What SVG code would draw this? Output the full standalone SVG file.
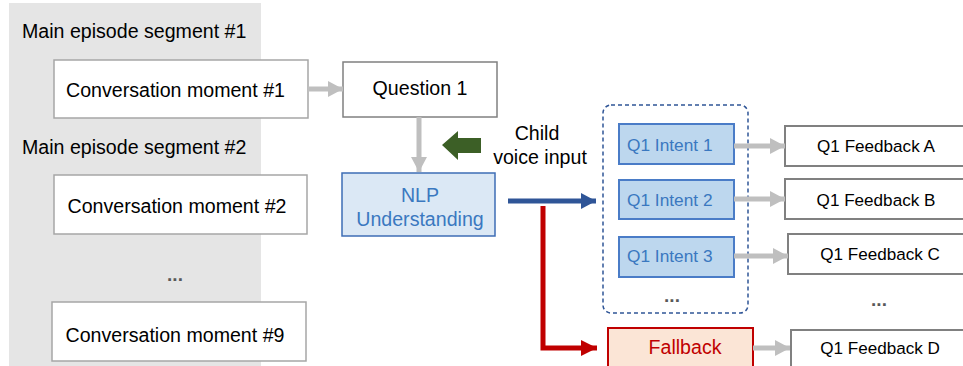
<svg xmlns="http://www.w3.org/2000/svg" width="963" height="366" viewBox="0 0 963 366">
<defs>
<style>
text{font-family:"Liberation Sans",Arial,sans-serif;font-size:19.6px;fill:#000}
.c{text-anchor:middle}
.blue{fill:#3a78c0}
.wbox{fill:#fff;stroke:#a6a6a6;stroke-width:1.5}
.fb{fill:#fff;stroke:#808080;stroke-width:2}
.intent{fill:#bdd7ee;stroke:#4a7cc7;stroke-width:2}
.g{stroke:#bfbfbf;stroke-width:5;fill:none}
.dots{fill:#595959;font-size:19px;font-weight:bold}
.sm{font-size:17.3px}
.fbt{font-size:17.1px}
</style>
<marker id="ag" markerUnits="userSpaceOnUse" markerWidth="15" markerHeight="16" refX="15" refY="8" orient="auto"><path d="M0,0 L15,8 L0,16 Z" fill="#bfbfbf"/></marker>
<marker id="ab" markerUnits="userSpaceOnUse" markerWidth="15" markerHeight="16" refX="15" refY="8" orient="auto"><path d="M0,0 L15,8 L0,16 Z" fill="#2f5597"/></marker>
<marker id="ar" markerUnits="userSpaceOnUse" markerWidth="16" markerHeight="16" refX="16" refY="8" orient="auto"><path d="M0,0 L16,8 L0,16 Z" fill="#c00000"/></marker>
</defs>
<rect width="963" height="366" fill="#fff"/>
<g id="segment1">
<rect x="9" y="3" width="252" height="115" fill="#e5e5e5"/>
<text x="22" y="38">Main episode segment #1</text>
</g>
<g id="segment2">
<rect x="9" y="118" width="252" height="248" fill="#e5e5e5"/>
<text x="22" y="154">Main episode segment #2</text>
<text x="175" y="281" class="c dots">...</text>
</g>
<g id="cm1"><rect x="54" y="60" width="254" height="58" class="wbox"/><text x="175.5" y="97" class="c">Conversation moment #1</text></g>
<g id="cm2"><rect x="54" y="175" width="253" height="59" class="wbox"/><text x="177" y="213" class="c">Conversation moment #2</text></g>
<g id="cm9"><rect x="52" y="302" width="254" height="59" class="wbox"/><text x="175" y="342" class="c">Conversation moment #9</text></g>
<g id="q1"><rect x="343" y="62" width="154" height="55" style="fill:#fff;stroke:#808080;stroke-width:1.5"/><text x="420" y="95" class="c">Question 1</text></g>
<g id="nlp"><rect x="342" y="173" width="153" height="63" fill="#dbe8f5" stroke="#3e6db5" stroke-width="1.5"/><text x="420" y="202" class="c blue">NLP</text><text x="420" y="226" class="c blue">Understanding</text></g>
<g id="child-input">
<polygon points="442,145 458,131 458,138 481,138 481,153 458,153 458,160" fill="#3c5f26"/>
<text x="537" y="140" class="c">Child</text>
<text x="540" y="164" class="c">voice input</text>
</g>
<g id="intents">
<rect x="603" y="105" width="145" height="208" rx="8" fill="none" stroke="#2f5597" stroke-width="1.5" stroke-dasharray="4,3"/>
<g id="intent1"><rect x="619" y="124" width="115" height="40" class="intent"/><text x="627" y="151" class="blue sm">Q1 Intent 1</text></g>
<g id="intent2"><rect x="619" y="180" width="115" height="39" class="intent"/><text x="627" y="206" class="blue sm">Q1 Intent 2</text></g>
<g id="intent3"><rect x="619" y="237" width="115" height="40" class="intent"/><text x="627" y="262" class="blue sm">Q1 Intent 3</text></g>
<text x="672" y="302" class="c dots">...</text>
</g>
<g id="fallback"><rect x="608" y="328" width="145" height="50" fill="#fbe5d6" stroke="#c00000" stroke-width="2"/><text x="685" y="354" class="c" style="fill:#c00000">Fallback</text></g>
<g id="fbA"><rect x="785" y="126" width="190" height="40" class="fb"/><text x="876" y="152" class="c fbt">Q1 Feedback A</text></g>
<g id="fbB"><rect x="785" y="179" width="190" height="40" class="fb"/><text x="876" y="206" class="c fbt">Q1 Feedback B</text></g>
<g id="fbC"><rect x="788" y="234" width="190" height="40" class="fb"/><text x="880" y="260" class="c fbt">Q1 Feedback C</text></g>
<text x="879" y="306" class="c dots">...</text>
<g id="fbD"><rect x="791" y="330" width="190" height="50" class="fb"/><text x="880" y="354" class="c fbt">Q1 Feedback D</text></g>
<g id="connectors">
<line x1="308" y1="89" x2="343" y2="89" class="g" marker-end="url(#ag)"/>
<line x1="419" y1="117" x2="419" y2="172" class="g" marker-end="url(#ag)"/>
<line x1="508" y1="201" x2="596" y2="201" stroke="#2f5597" stroke-width="5" marker-end="url(#ab)"/>
<polyline points="543,206 543,348 597,348" fill="none" stroke="#c00000" stroke-width="5" marker-end="url(#ar)"/>
<line x1="734" y1="146" x2="785" y2="146" class="g" marker-end="url(#ag)"/>
<line x1="734" y1="199" x2="785" y2="199" class="g" marker-end="url(#ag)"/>
<line x1="734" y1="256" x2="788" y2="256" class="g" marker-end="url(#ag)"/>
<line x1="753" y1="348" x2="790" y2="348" class="g" marker-end="url(#ag)"/>
</g>
</svg>
